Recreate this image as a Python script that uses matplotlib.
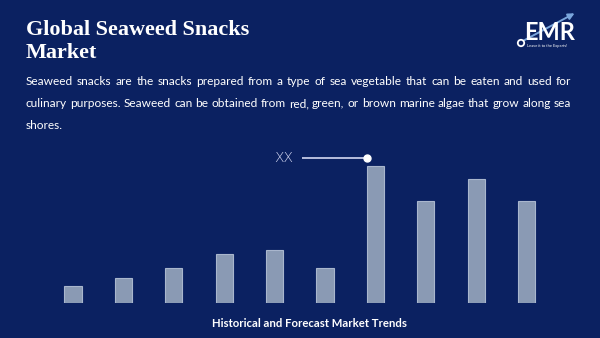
import matplotlib.pyplot as plt
from matplotlib.patches import Circle, FancyArrowPatch

# Bar heights for the trend chart (relative units, no axis shown)
periods = ['2018', '2019', '2020', '2021', '2022', '2023', '2024', '2025', '2026', '2027']
values = [17, 25, 35, 49, 53, 35, 137, 102, 124, 102]

title_lines = ['Global Seaweed Snacks', 'Market']
body_lines = [
    'Seaweed snacks are the snacks prepared from a type of sea vegetable that can be eaten and used for',
    'culinary purposes. Seaweed can be obtained from red, green, or brown marine algae that grow along sea',
    'shores.',
]
footer = 'Historical and Forecast Market Trends'
marker_label = 'XX'

bg = '#0b2161'
bar_fill = '#8a9ab4'
bar_edge = '#a9b6cd'
W, H = 600, 338

fig = plt.figure(figsize=(W / 100, H / 100), dpi=100, facecolor=bg)

# Overlay axes in pixel units for text and decorations
ov = fig.add_axes([0, 0, 1, 1])
ov.set_xlim(0, W)
ov.set_ylim(H, 0)
ov.axis('off')

# Bars
ax = fig.add_axes([47.8 / W, (H - 303.3) / H, 504 / W, 140 / H])
ax.set_facecolor('none')
ax.bar(range(len(values)), values, width=0.34, color=bar_fill, edgecolor=bar_edge, linewidth=0.8)
ax.set_xlim(-0.5, len(values) - 0.5)
ax.set_ylim(0, 140)
ax.axis('off')

# Title
for i, line in enumerate(title_lines):
    ov.text(26, 35 + i * 23.3, line, color='white', fontsize=15.9, fontweight='bold',
            family='Liberation Serif', va='baseline', ha='left')

# Description, justified over the first two lines
renderer = fig.canvas.get_renderer()
left, right = 26, 571
body_font = dict(color='white', fontsize=8.6, family='Lato', va='baseline', ha='left')
for i, line in enumerate(body_lines):
    y = 85 + i * 22
    words = line.split(' ')
    if i == len(body_lines) - 1:
        ov.text(left, y, line, **body_font)
        continue
    texts = [ov.text(0, y, w, **body_font) for w in words]
    widths = [t.get_window_extent(renderer).width for t in texts]
    gap = (right - left - sum(widths)) / (len(words) - 1)
    x = left
    for t, w in zip(texts, widths):
        t.set_x(x)
        x += w + gap

# Marker line with label
ov.plot([302, 367], [158, 158], color='#d4d8f2', lw=1.2, solid_capstyle='butt')
ov.plot([367], [158], 'o', color='white', ms=5)
ov.text(284, 158, marker_label, color='#d4d8f2', fontsize=10, family='DejaVu Sans',
        fontweight='light', ha='center', va='center')

# Footer
ov.text(309, 327, footer, color='white', fontsize=8.2, fontweight='bold', family='Lato',
        ha='center', va='baseline')

# Logo
ov.add_patch(FancyArrowPatch((521, 42), (577, 12), arrowstyle='-|>', mutation_scale=9,
                             color='#7aa6dc', lw=1.4, connectionstyle='arc3,rad=0.0'))
ov.text(550, 40, 'EMR', color='white', fontsize=17, fontweight='bold', family='Lato',
        ha='center', va='baseline')
ov.add_patch(Circle((521, 43), 3.2, fill=False, ec='white', lw=1.3))
ov.text(527, 45.5, 'Leave it to the Experts!', color='white', fontsize=2.9, family='Lato',
        ha='left', va='center')

fig.savefig('out.png', dpi=100, facecolor=bg)
